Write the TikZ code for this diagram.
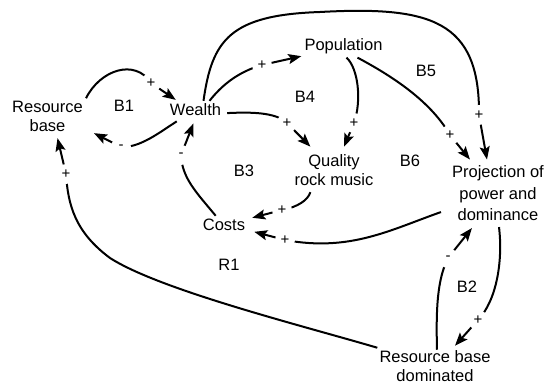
\documentclass[tikz,border=0pt]{standalone}
\usepackage{fontspec}
\setmainfont{Liberation Sans}
\usetikzlibrary{arrows.meta,calc}
\begin{document}
\begin{tikzpicture}[x=1pt,y=-1pt,
  lbl/.style={font=\fontsize{16.5}{19}\selectfont, align=center, inner sep=3pt},
  lbltall/.style={lbl, font=\fontsize{16.5}{21.5}\selectfont},
  looplbl/.style={font=\fontsize{16.5}{19}\selectfont, inner sep=0pt},
  sgn/.style={font=\fontsize{15}{15}\selectfont, circle, fill=white, inner sep=0pt, minimum size=20pt},
  link/.style={line width=2pt, -{Stealth[length=13pt,width=10pt,inset=2.5pt]}}]
\useasboundingbox (0,0) rectangle (550,385);

% variables
\node[lbl] (rb) at (47.5,116.7) {Resource\\base};
\node[lbl,anchor=base] (w) at (195.5,116) {Wealth};
\node[lbl,anchor=base] (p) at (343.5,51) {Population};
\node[lbl] (q) at (334,170.4) {Quality\\rock music};
\node[lbl,anchor=base] (c) at (224,230.5) {Costs};
\node[lbltall] (proj) at (498,193.3) {Projection of\\power and\\dominance};
\node[lbl,inner sep=1pt] (rbd) at (435,366.5) {Resource base\\dominated};

% loop labels
\node[looplbl] (b1) at (124,106) {B1};
\node[looplbl] (b4) at (305,97) {B4};
\node[looplbl] (b5) at (426,71) {B5};
\node[looplbl] (b3) at (244,171) {B3};
\node[looplbl] (b6) at (410,161) {B6};
\node[looplbl] (r1) at (229,265) {R1};
\node[looplbl] (b2) at (467,287) {B2};

% polarity points
\coordinate (k1) at (151,83);
\coordinate (k2) at (121,147);
\coordinate (k3) at (181,155);
\coordinate (k4) at (262,65);
\coordinate (k5) at (479,115);
\coordinate (k6) at (287,123);
\coordinate (k7) at (354,123);
\coordinate (k8) at (450,135);
\coordinate (k9) at (282,210);
\coordinate (k10) at (285,240);
\coordinate (k11) at (478,320);
\coordinate (k12) at (448,258);
\coordinate (k13) at (66,174);

% links
\draw[link] (rb.north east) .. controls (100,70) and (135,58) .. (k1) -- ($(w.north west)+(9,-1)$);
\draw[link] ($(w.south west)+(10,2)$) .. controls (160,132) and (140,148) .. (k2) -- ($(rb.south east)+(8,-2)$);
\draw[link] ($(c.north west)+(16,0)$) .. controls (196,192) and (182,178) .. (k3) -- ($(w.south)+(-2,4)$);
\draw[link] ($(w.north)+(14,0)$) .. controls (222,85) and (238,72) .. (k4) -- (p);
\draw[link] ($(w.north)+(8,0)$) .. controls (212,40) and (230,15) .. (320,12) .. controls (430,6) and (480,20) .. (k5) -- ($(proj.north)+(-11,-3)$);
\draw[link] ($(w.east)+(3,3)$) .. controls (250,112) and (276,112) .. (k6) -- ($(q.north west)+(19,-5)$);
\draw[link] ($(p.south)+(3,0)$) .. controls (358,68) and (362,100) .. (k7) -- ($(q.north)+(10,-5)$);
\draw[link] ($(p.south)+(14,0)$) .. controls (390,75) and (430,100) .. (k8) -- ($(proj.north west)+(21,-3)$);
\draw[link] ($(q.south west)+(19,3)$) .. controls (308,200) and (298,207) .. (k9) -- ($(c.north east)+(4,2)$);
\draw[link] ($(proj.south west)+(-8,-12)$) .. controls (390,230) and (350,252) .. (k10) -- ($(c.east)+(6,7)$);
\draw[link] ($(proj.south)+(1,3)$) .. controls (503,260) and (497,300) .. (k11) -- ($(rbd.north)+(20,-4)$);
\draw[link] ($(rbd.north)+(2,0)$) .. controls (436,310) and (437,280) .. (k12) -- ($(proj.south west)+(23,4)$);
\draw[link] ($(rbd.north west)+(-1,-2)$) .. controls (300,325) and (160,290) .. (110,258) .. controls (75,232) and (68,205) .. (k13) -- ($(rb.south)+(10,3)$);

% polarity signs
\node[sgn] (s1) at (k1) {+};
\node[sgn] (s2) at (k2) {-};
\node[sgn] (s3) at (k3) {-};
\node[sgn] (s4) at (k4) {+};
\node[sgn] (s5) at (k5) {+};
\node[sgn] (s6) at (k6) {+};
\node[sgn] (s7) at (k7) {+};
\node[sgn] (s8) at (k8) {+};
\node[sgn] (s9) at (k9) {+};
\node[sgn] (s10) at (k10) {+};
\node[sgn] (s11) at (k11) {+};
\node[sgn] (s12) at (k12) {-};
\node[sgn] (s13) at (k13) {+};
\end{tikzpicture}
\end{document}
